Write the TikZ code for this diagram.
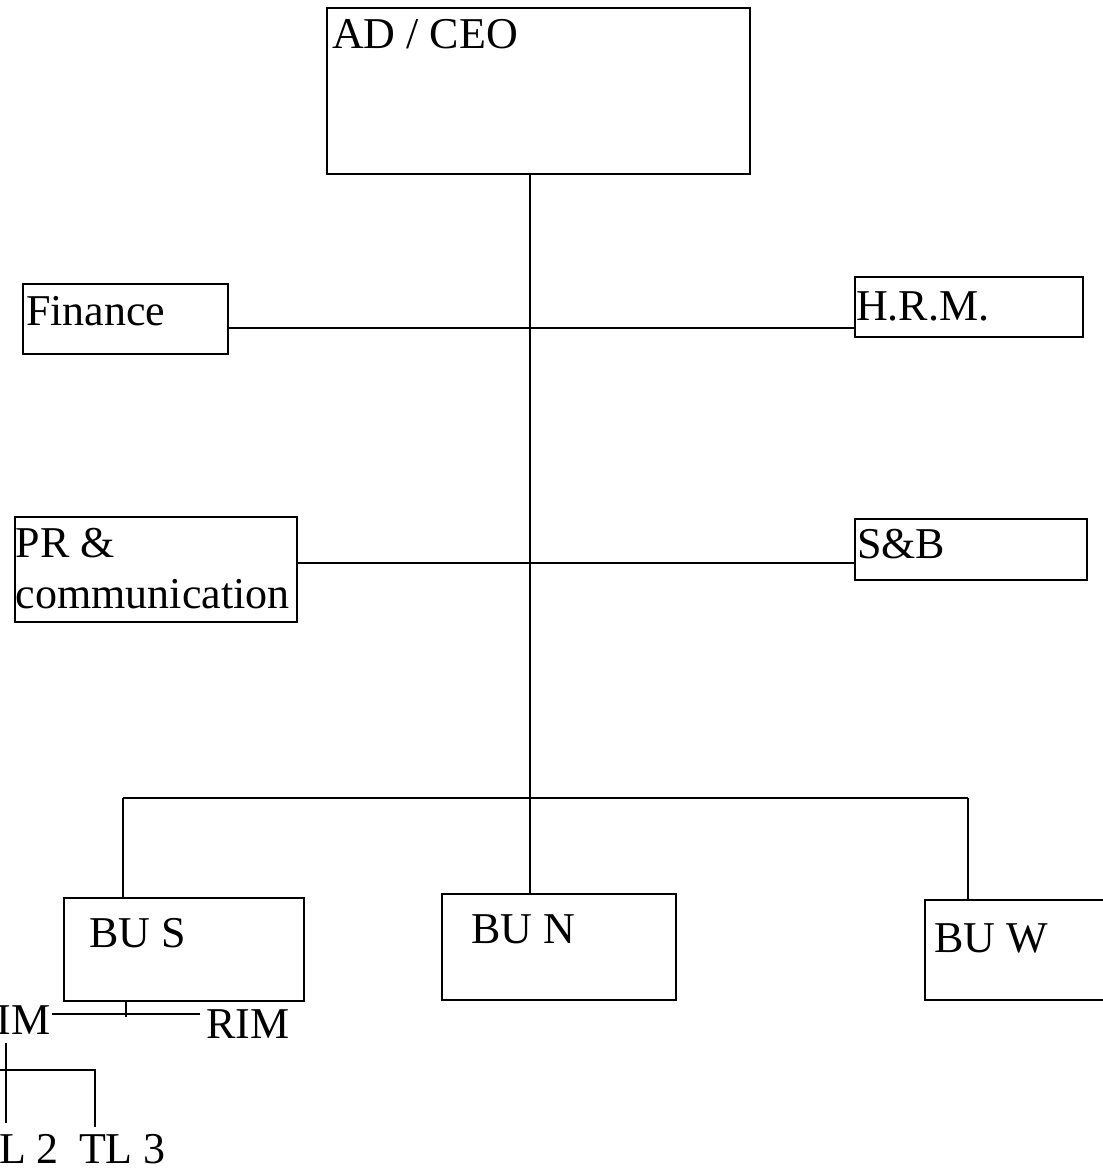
\documentclass[tikz,border=0pt]{standalone}
\usepackage{fontspec}
\setmainfont{Liberation Serif}
\begin{document}
\begin{tikzpicture}[x=1pt,y=-1pt,
  box/.style={draw, line width=2pt, rectangle, inner sep=0pt, outer sep=0pt, anchor=north west},
  lbl/.style={anchor=base west, inner sep=0pt, outer sep=0pt, font=\fontsize{44}{51}\selectfont},
  conn/.style={line width=1.8pt}]
\useasboundingbox (0,0) rectangle (1103,1168);
\clip (0,0) rectangle (1103,1168);
\fill[white] (0,0) rectangle (1103,1168);
% boxes
\node[box, minimum width=423pt, minimum height=166pt] (ceo) at (327,8) {};
\node[box, minimum width=205pt, minimum height=70pt] (fin) at (23,284) {};
\node[box, minimum width=228pt, minimum height=60pt] (hrm) at (855,277) {};
\node[box, minimum width=282pt, minimum height=105pt] (pr) at (15,517) {};
\node[box, minimum width=232pt, minimum height=61pt] (sb) at (855,519) {};
\node[box, minimum width=240pt, minimum height=103pt] (bus) at (64,898) {};
\node[box, minimum width=234pt, minimum height=106pt] (bun) at (442,894) {};
\node[box, minimum width=200pt, minimum height=100pt] (buw) at (925,900) {};
% labels
\node[lbl] (tceo) at (332,48) {AD / CEO};
\node[lbl] (tfin) at (26,325) {Finance};
\node[lbl] (thrm) at (856,320) {H.R.M.};
\node[lbl] (tpr1) at (16,557) {PR \&};
\node[lbl] (tpr2) at (16,608) {communication};
\node[lbl] (tsb) at (857,558) {S\&B};
\node[lbl] (tbus) at (89,947) {BU S};
\node[lbl] (tbun) at (471,943) {BU N};
\node[lbl] (tbuw) at (934,952) {BU W};
\node[lbl] (tim) at (-3,1034) {IM};
\node[lbl] (trim) at (206,1038) {RIM};
\node[lbl] (tl2) at (-1,1163) {L 2};
\node[lbl] (tl3) at (79,1163) {TL 3};
% coordinates
\coordinate (trunk) at (530,174);
\coordinate (j1) at (530,328);
\coordinate (j2) at (530,563);
\coordinate (busL) at (123,798);
\coordinate (busR) at (968,798);
\coordinate (tick) at (126,1014);
\coordinate (imL) at (52,1014);
\coordinate (rimL) at (200,1014);
\coordinate (imD) at (6,1043);
\coordinate (tlj) at (6,1070);
\coordinate (tl3j) at (95,1070);
\coordinate (edge) at (0,1070);
% connectors
\draw[conn] (trunk |- ceo.south) -- (trunk |- bun.north);
\draw[conn] (fin.east |- j1) -- (hrm.west |- j1);
\draw[conn] (pr.east |- j2) -- (sb.west |- j2);
\draw[conn] (busL) -- (busR);
\draw[conn] (busL) -- (busL |- bus.north);
\draw[conn] (busR) -- (busR |- buw.north);
\draw[conn] (tick |- bus.south) -- ++(0,16);
\draw[conn] (imL) -- (rimL);
\draw[conn] (imD) -- (6,1123);
\draw[conn] (edge) -- (tl3j) -- (95,1127);
\end{tikzpicture}
\end{document}
